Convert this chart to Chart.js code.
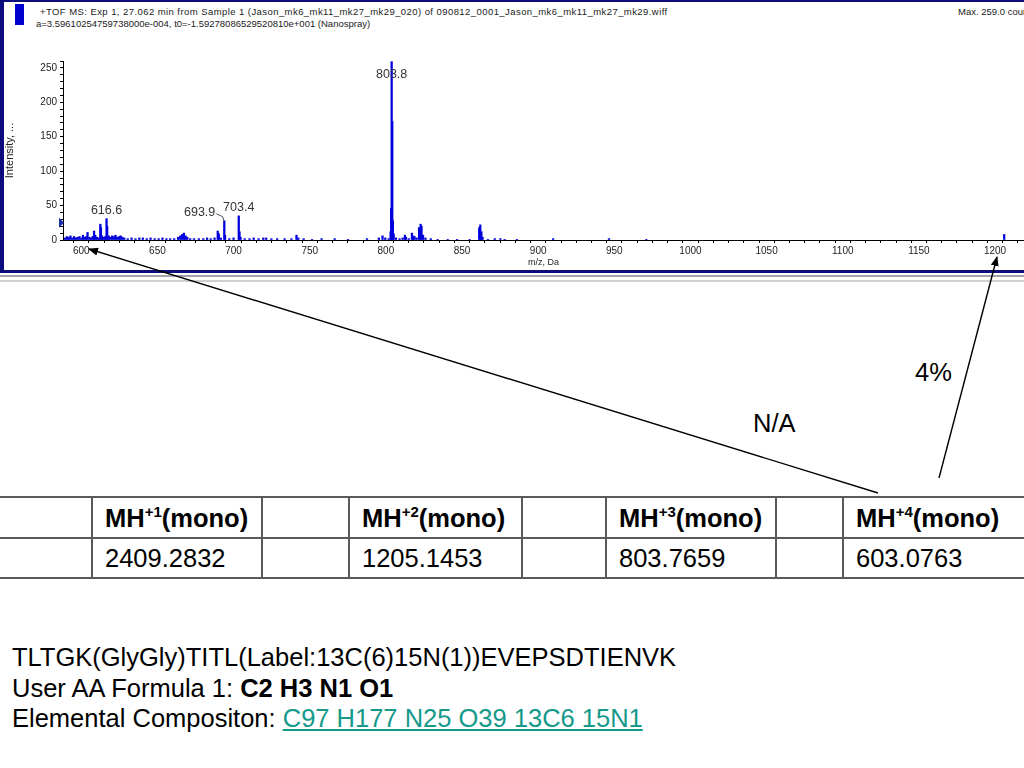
<!DOCTYPE html>
<html>
<head>
<meta charset="utf-8">
<script src="https://cdn.jsdelivr.net/npm/chart.js@4.4.0/dist/chart.umd.min.js"></script>
<style>
  html, body { margin: 0; padding: 0; background: #fff; }
  body { width: 1024px; height: 768px; position: relative; overflow: hidden;
         font-family: 'Liberation Sans', Arial, sans-serif; color: #000; }
  #panel { position: absolute; left: 0; top: 0; width: 1030px; height: 273px; box-sizing: border-box;
           border-left: 4px solid #0c0c7c; border-top: 2px solid #0c0c7c; border-bottom: 3px solid #0c0c7c; }
  #spectrum { position: absolute; left: 0; top: 0; }
  .hdr { position: absolute; white-space: nowrap; font-size: 9.5px; color: #222; line-height: 12px; }
  #icon { position: absolute; left: 15px; top: 4px; width: 9px; height: 21px; background: #0000d0; }
  .sep { position: absolute; left: 0; width: 1024px; }
  #arrows { position: absolute; left: 0; top: 0; }
  .note { position: absolute; font-size: 25.5px; line-height: 30px; white-space: nowrap; }
  .rule { position: absolute; background: #5a5a5a; }
  .cell { position: absolute; font-size: 25.5px; line-height: 30px; white-space: nowrap; }
  .cell.b { font-weight: bold; }
  .cell sup { font-size: 15px; vertical-align: baseline; position: relative; top: -10px; }
  #info { position: absolute; left: 12px; top: 642px; font-size: 25.5px; line-height: 30.5px; white-space: nowrap; }
  #info a { color: #14998a; text-decoration: underline; }
</style>
</head>
<body>
<div id="panel"></div>
<div id="icon"></div>
<div class="hdr" style="left:40px; top:6px; letter-spacing:0.43px;">+TOF MS: Exp 1, 27.062 min from Sample 1 (Jason_mk6_mk11_mk27_mk29_020) of 090812_0001_Jason_mk6_mk11_mk27_mk29.wiff</div>
<div class="hdr" style="left:36px; top:18px;">a=3.59610254759738000e-004, t0=-1.59278086529520810e+001 (Nanospray)</div>
<div class="hdr" style="left:958px; top:6px;">Max. 259.0 counts.</div>
<canvas id="spectrum" width="1024" height="270"></canvas>
<div class="sep" style="top:275px; height:2px; background:#a4a4a4;"></div>
<div class="sep" style="top:280px; height:2px; background:#cfcfcf;"></div>

<div class="note" style="left:915px; top:357px;">4%</div>
<div class="note" style="left:753px; top:408px;">N/A</div>

<div id="massTable"></div>

<div id="info">
  TLTGK(GlyGly)TITL(Label:13C(6)15N(1))EVEPSDTIENVK<br>
  User AA Formula 1: <b>C2 H3 N1 O1</b><br>
  Elemental Compositon: <a>C97 H177 N25 O39 13C6 15N1</a>
</div>

<svg id="arrows" width="1024" height="768">
  <defs>
    <marker id="head" markerWidth="10" markerHeight="8" refX="9" refY="4" orient="auto" markerUnits="userSpaceOnUse">
      <path d="M0,0 L10,4 L0,8 z" fill="#000"/>
    </marker>
  </defs>
  <line x1="878" y1="493" x2="89" y2="249" stroke="#000" stroke-width="1.4" marker-end="url(#head)"/>
  <line x1="939" y1="478" x2="997" y2="257" stroke="#000" stroke-width="1.4" marker-end="url(#head)"/>
</svg>

<script>
// ─── Data ──────────────────────────────────────────────────
const mzValues = [
  589.4, 590.6, 591.7, 592.9, 594.1, 595.3, 596.5, 597.6, 598.8, 600.0, 601.1, 602.3,
  603.2, 604.1, 605.3, 606.4, 607.5, 608.4, 609.2, 610.3, 611.4, 612.5, 612.9, 613.6,
  614.7, 615.7, 616.6, 617.0, 618.0, 619.1, 620.3, 621.4, 622.5, 623.6, 624.8, 625.9,
  627.0, 628.2, 630.5, 633.0, 635.6, 638.1, 640.4, 643.0, 645.5, 648.2, 650.8, 653.3,
  655.9, 658.4, 661.0, 663.6, 665.0, 666.2, 667.4, 668.5, 669.6, 671.5, 674.0, 677.2,
  680.1, 682.6, 685.0, 687.5, 689.6, 690.3, 691.6, 693.9, 694.4, 697.2, 700.0,
  703.4, 703.9, 704.6, 707.3, 710.5, 713.2, 716.4, 719.5, 721.4, 724.8, 728.6, 733.5,
  738.0, 741.3, 742.5, 746.0, 751.5, 757.8, 766.4, 775.1, 787.6, 795.4, 797.8, 799.6,
  801.8, 803.1, 803.5, 803.8, 804.2, 804.6, 805.1, 806.6, 809.0, 811.0, 812.5, 813.2,
  815.0, 817.1, 817.9, 818.8, 820.2, 821.8, 822.8, 823.4, 824.4, 826.0, 829.5, 834.0,
  840.6, 846.8, 855.0, 861.3, 862.0, 862.7, 863.5, 867.0, 871.5, 875.2, 878.0, 886.0,
  909.8, 946.5, 971.0, 1206.0
];
const counts = [
  3, 5, 4, 6, 3, 5, 3, 4, 5, 3, 7, 4,
  5, 11, 4, 3, 5, 13, 7, 4, 3, 23, 18, 6,
  4, 5, 31, 20, 6, 4, 6, 5, 7, 4, 5, 6,
  4, 3, 2, 3, 2, 3, 3, 2, 3, 2, 2, 3,
  2, 2, 2, 4, 6, 8, 10, 6, 4, 2, 2, 2,
  2, 3, 2, 3, 13, 9, 3, 28, 7, 2, 3,
  35, 12, 4, 2, 2, 3, 2, 3, 3, 2, 2, 2,
  2, 7, 3, 2, 1, 2, 2, 1, 2, 3, 6, 3,
  2, 12, 46, 259, 172, 28, 9, 3, 2, 3, 7, 4,
  2, 10, 6, 5, 3, 18, 23, 20, 7, 3, 2, 1,
  1, 1, 1, 18, 22, 12, 4, 1, 2, 2, 1, 1,
  2, 2, 1, 8
];
const labelledPeaks = [616.6, 693.9, 703.4, 803.8];
const thresholdCount = 25;
const chargeStates = ['+1', '+2', '+3', '+4'];
const monoMasses = ['2409.2832', '1205.1453', '803.7659', '603.0763'];

// ─── Table (grid lines + cell text) ────────────────────────
const colEdges = [92, 262, 349, 522, 606, 776, 843];
const rowEdges = [497, 538, 578];
const tbl = document.getElementById('massTable');
let html = '';
rowEdges.forEach(y => { html += `<div class="rule" style="left:0;top:${y - 1}px;width:1024px;height:2px"></div>`; });
colEdges.forEach(x => { html += `<div class="rule" style="left:${x - 1}px;top:${rowEdges[0] - 1}px;width:2px;height:${rowEdges[2] - rowEdges[0] + 2}px"></div>`; });
chargeStates.forEach((z, i) => {
  const left = colEdges[i * 2] + 13;
  html += `<div class="cell b" style="left:${left}px;top:${(rowEdges[0] + rowEdges[1]) / 2 - 15}px">MH<sup>${z}</sup>(mono)</div>`;
  html += `<div class="cell" style="left:${left}px;top:${(rowEdges[1] + rowEdges[2]) / 2 - 15}px">${monoMasses[i]}</div>`;
});
tbl.innerHTML = html;

// ─── Peak labels + threshold marker ────────────────────────
const peakLabels = {
  id: 'peakLabels',
  afterDatasetsDraw(chart) {
    const { ctx, chartArea, scales: { x, y } } = chart;
    ctx.save();
    ctx.font = '12.5px "Liberation Sans", Arial, sans-serif';
    ctx.fillStyle = '#333';
    ctx.strokeStyle = '#555';
    ctx.lineWidth = 1;
    ctx.textBaseline = 'middle';
    labelledPeaks.forEach(mz => {
      const h = counts[mzValues.indexOf(mz)];
      const px = x.getPixelForValue(mz);
      const top = y.getPixelForValue(h);
      const cy = Math.max(top - 8, chartArea.top + 14);
      const txt = mz.toFixed(1);
      if (mz === 693.9) {
        ctx.textAlign = 'right';
        ctx.fillText(txt, px - 9, top - 8);
        ctx.beginPath();
        ctx.moveTo(px - 8, top - 7);
        ctx.lineTo(px - 1.5, top - 4);
        ctx.lineTo(px - 0.5, top);
        ctx.stroke();
      } else {
        ctx.textAlign = 'center';
        ctx.fillText(txt, px, cy);
      }
    });
    // threshold marker on the y axis
    const ty = y.getPixelForValue(thresholdCount);
    ctx.fillStyle = '#1a2fa8';
    ctx.beginPath();
    ctx.moveTo(chartArea.left - 4, ty - 5);
    ctx.lineTo(chartArea.left + 1, ty);
    ctx.lineTo(chartArea.left - 4, ty + 5);
    ctx.closePath();
    ctx.fill();
    ctx.restore();
  }
};

// ─── Spectrum ──────────────────────────────────────────────
const tickFont = { family: '"Liberation Sans", Arial, sans-serif', size: 10 };
new Chart(document.getElementById('spectrum'), {
  type: 'bar',
  data: {
    datasets: [{
      data: mzValues.map((mz, i) => ({ x: mz, y: counts[i] })),
      backgroundColor: '#0000dc',
      barThickness: 1.6,
      grouped: false
    }]
  },
  options: {
    responsive: false,
    animation: false,
    layout: { padding: { top: 61, left: 0, right: 0, bottom: 0 } },
    plugins: { legend: { display: false }, tooltip: { enabled: false } },
    scales: {
      x: {
        type: 'linear', min: 588, max: 1219, offset: false,
        afterFit: s => { s.height = 30; },
        border: { display: true, color: '#000', width: 1 },
        grid: { drawOnChartArea: false, drawTicks: true, tickLength: 3, color: '#000' },
        ticks: {
          stepSize: 10, autoSkip: false, maxRotation: 0, includeBounds: false,
          padding: 2, color: '#222', font: tickFont,
          callback: v => (v % 50 === 0 ? v : '')
        },
        title: { display: true, text: 'm/z, Da', color: '#222', font: { ...tickFont, size: 9 },
                 padding: { top: 0, bottom: 2 } }
      },
      y: {
        min: 0, max: 260,
        afterFit: s => { s.width = 63; },
        border: { display: true, color: '#000', width: 1 },
        grid: { drawOnChartArea: false, drawTicks: true, tickLength: 3, color: '#000' },
        ticks: {
          stepSize: 10, autoSkip: false, includeBounds: false,
          padding: 3, color: '#222', font: tickFont,
          callback: v => (v % 50 === 0 ? v : '')
        },
        title: { display: true, text: 'Intensity, ...', color: '#222', font: { ...tickFont, size: 11 },
                 padding: { top: 3, bottom: 0 } }
      }
    }
  },
  plugins: [peakLabels]
});
</script>
</body>
</html>
